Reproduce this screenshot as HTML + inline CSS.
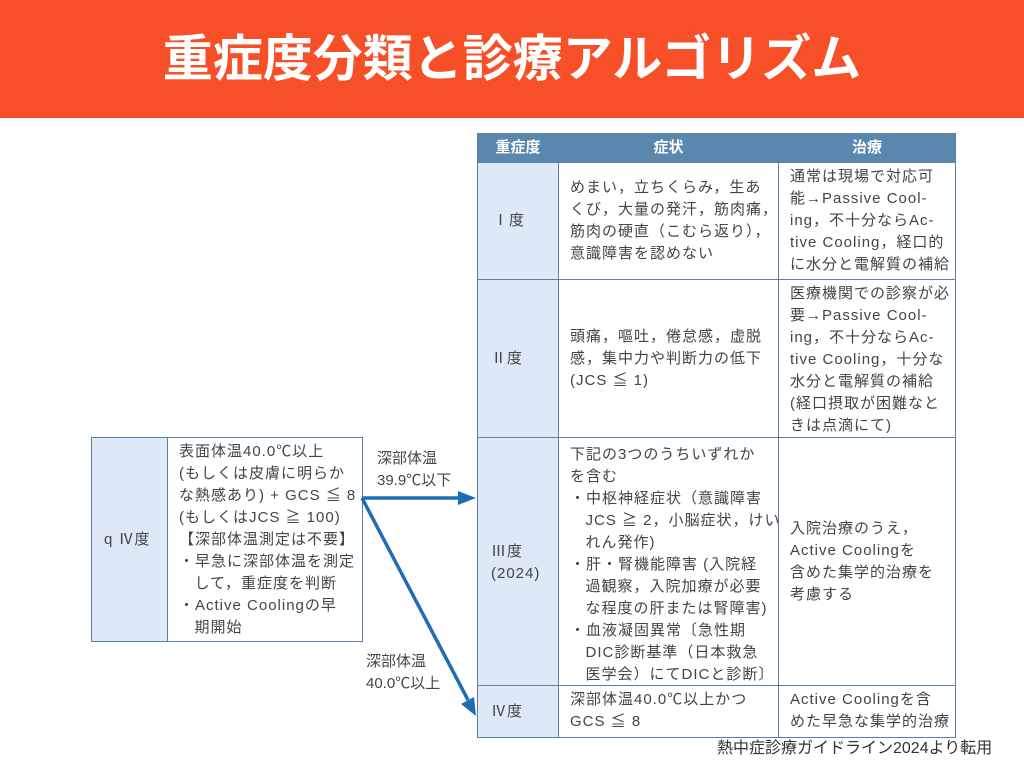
<!DOCTYPE html>
<html><head><meta charset="utf-8"><style>
*{margin:0;padding:0;box-sizing:border-box}
body{width:1024px;height:768px;background:#fff;position:relative;overflow:hidden;font-family:"Liberation Sans","Noto Sans CJK JP",sans-serif;color:#444}
.band{position:absolute;left:0;top:0;width:1024px;height:118px;background:#f75028}
.title{position:absolute;left:0;top:24px;width:1024px;text-align:center;font-size:50px;font-weight:bold;color:#fff;letter-spacing:0;line-height:70px}
.c{position:absolute;border:1px solid #5d7fa3;font-size:15px;line-height:22px}
.h{background:#5a87ad;color:#fff;font-weight:bold;text-align:center;line-height:28px}
.f{background:#dde9f6}
.t{position:absolute;font-size:15px;line-height:22px;color:#444;white-space:nowrap;letter-spacing:1px}
</style></head><body>
<div class="band"></div>
<div class="title">重症度分類と診療アルゴリズム</div>

<div class="c h" style="left:477px;top:133px;width:82px;height:30px">重症度</div>
<div class="c h" style="left:558px;top:133px;width:221px;height:30px">症状</div>
<div class="c h" style="left:778px;top:133px;width:178px;height:30px">治療</div>

<div class="c f" style="left:477px;top:162px;width:82px;height:118px"></div>
<div class="c" style="left:558px;top:162px;width:221px;height:118px"></div>
<div class="c" style="left:778px;top:162px;width:178px;height:118px"></div>
<div class="c f" style="left:477px;top:279px;width:82px;height:159px"></div>
<div class="c" style="left:558px;top:279px;width:221px;height:159px"></div>
<div class="c" style="left:778px;top:279px;width:178px;height:159px"></div>
<div class="c f" style="left:477px;top:437px;width:82px;height:249px"></div>
<div class="c" style="left:558px;top:437px;width:221px;height:249px"></div>
<div class="c" style="left:778px;top:437px;width:178px;height:249px"></div>
<div class="c f" style="left:477px;top:685px;width:82px;height:53px"></div>
<div class="c" style="left:558px;top:685px;width:221px;height:53px"></div>
<div class="c" style="left:778px;top:685px;width:178px;height:53px"></div>

<div class="t" style="left:493px;top:210px">Ⅰ度</div>
<div class="t" style="left:570px;top:177px">めまい，立ちくらみ，生あ<br>くび，大量の発汗，筋肉痛，<br>筋肉の硬直（こむら返り），<br>意識障害を認めない</div>
<div class="t" style="left:790px;top:166px">通常は現場で対応可<br>能→Passive Cool-<br>ing，不十分ならAc-<br>tive Cooling，経口的<br>に水分と電解質の補給</div>

<div class="t" style="left:491px;top:348px">Ⅱ度</div>
<div class="t" style="left:570px;top:326px">頭痛，嘔吐，倦怠感，虚脱<br>感，集中力や判断力の低下<br>(JCS ≦ 1)</div>
<div class="t" style="left:790px;top:283px">医療機関での診察が必<br>要→Passive Cool-<br>ing，不十分ならAc-<br>tive Cooling，十分な<br>水分と電解質の補給<br>(経口摂取が困難なと<br>きは点滴にて)</div>

<div class="t" style="left:491px;top:541px">Ⅲ度<br>(2024)</div>
<div class="t" style="left:570px;top:444px">下記の3つのうちいずれか<br>を含む<br>・中枢神経症状（意識障害<br>&nbsp;&nbsp;&nbsp;JCS ≧ 2，小脳症状，けい<br>&nbsp;&nbsp;&nbsp;れん発作)<br>・肝・腎機能障害 (入院経<br>&nbsp;&nbsp;&nbsp;過観察，入院加療が必要<br>&nbsp;&nbsp;&nbsp;な程度の肝または腎障害)<br>・血液凝固異常〔急性期<br>&nbsp;&nbsp;&nbsp;DIC診断基準（日本救急<br>&nbsp;&nbsp;&nbsp;医学会）にてDICと診断〕</div>
<div class="t" style="left:790px;top:518px">入院治療のうえ，<br>Active Coolingを<br>含めた集学的治療を<br>考慮する</div>

<div class="t" style="left:491px;top:701px">Ⅳ度</div>
<div class="t" style="left:570px;top:689px">深部体温40.0℃以上かつ<br>GCS ≦ 8</div>
<div class="t" style="left:790px;top:689px">Active Coolingを含<br>めた早急な集学的治療</div>

<div class="c f" style="left:91px;top:437px;width:77px;height:205px"></div>
<div class="c" style="left:167px;top:437px;width:196px;height:205px"></div>
<div class="t" style="left:104px;top:529px">q Ⅳ度</div>
<div class="t" style="left:179px;top:441px">表面体温40.0℃以上<br>(もしくは皮膚に明らか<br>な熱感あり) + GCS ≦ 8<br>(もしくはJCS ≧ 100)<br>【深部体温測定は不要】<br>・早急に深部体温を測定<br>&nbsp;&nbsp;&nbsp;して，重症度を判断<br>・Active Coolingの早<br>&nbsp;&nbsp;&nbsp;期開始</div>

<div class="t" style="left:377px;top:448px;letter-spacing:0">深部体温<br>39.9℃以下</div>
<div class="t" style="left:366px;top:651px;letter-spacing:0">深部体温<br>40.0℃以上</div>

<svg style="position:absolute;left:0;top:0" width="1024" height="768">
<line x1="362" y1="498" x2="462" y2="498" stroke="#1f6db5" stroke-width="3.5"/>
<polygon points="476,498 458,491 458,505" fill="#1f6db5"/>
<line x1="362" y1="498" x2="468" y2="700" stroke="#1f6db5" stroke-width="3.5"/>
<polygon points="476,716 461,704 474,697" fill="#1f6db5"/>
</svg>

<div class="t" style="left:717px;top:738px;font-size:16px;color:#333;letter-spacing:0">熱中症診療ガイドライン2024より転用</div>
</body></html>
